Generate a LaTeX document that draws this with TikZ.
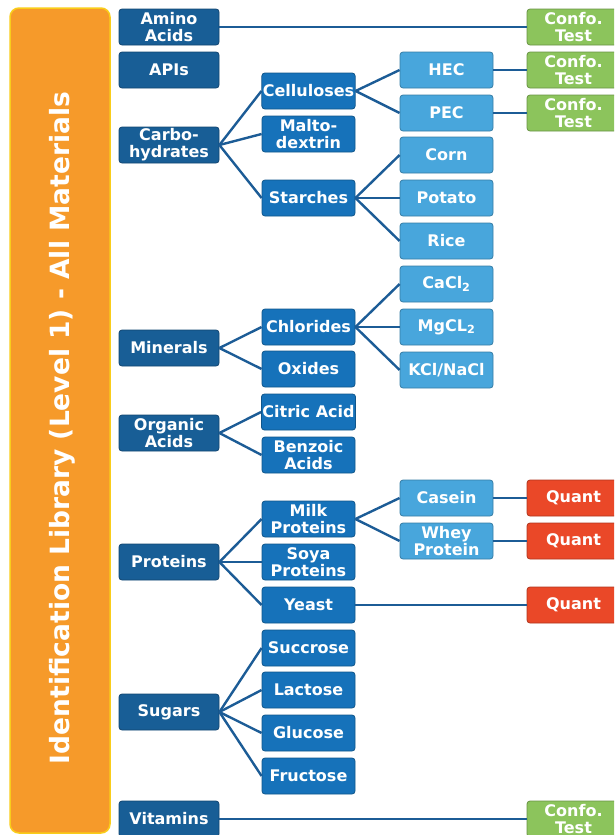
\documentclass[tikz,border=0pt]{standalone}
\usepackage{fontspec}
\setmainfont{DejaVu Sans}
\usepackage{tikz}

\definecolor{tierone}{RGB}{24,94,150}
\definecolor{tiertwo}{RGB}{22,114,186}
\definecolor{tierthree}{RGB}{72,166,220}
\definecolor{confo}{RGB}{140,196,92}
\definecolor{quant}{RGB}{234,72,40}
\definecolor{libbar}{RGB}{246,154,42}
\definecolor{linkcol}{RGB}{28,92,150}

\begin{document}
\begin{tikzpicture}[x=1pt, y=-1pt,
  box/.style={draw=#1!75!black, fill=#1, rounded corners=3pt, line width=0.8pt,
    minimum width=93pt, minimum height=36pt, inner sep=1pt, align=center,
    text=white, font=\bfseries\fontsize{16}{17}\selectfont},
  cat/.style={box=tierone, minimum width=100pt},
  sub/.style={box=tiertwo},
  leaf/.style={box=tierthree},
  conf/.style={box=confo},
  qnt/.style={box=quant},
  link/.style={draw=linkcol, line width=2.4pt}
]
\useasboundingbox (0,0) rectangle (614,835);
\clip (0,0) rectangle (614,835);

% Library bar on the left
\draw[fill=libbar, draw=yellow!55!libbar, line width=1.5pt, rounded corners=9pt]
  (10,8) rectangle (110,833);
\node[rotate=90, text=white, font=\bfseries\fontsize{26.5}{28}\selectfont] (lib) at (62,428)
  {Identification Library (Level 1) - All Materials};

% Level 1: material classes
\node[cat] (amino) at (169,27) {Amino\\Acids};
\node[cat] (apis) at (169,70) {APIs};
\node[cat] (carb) at (169,145) {Carbo-\\hydrates};
\node[cat] (mine) at (169,348) {Minerals};
\node[cat] (orga) at (169,433) {Organic\\Acids};
\node[cat] (prot) at (169,562) {Proteins};
\node[cat] (sugr) at (169,712) {Sugars};
\node[cat] (vita) at (169,819) {Vitamins};

% Level 2
\node[sub] (cell) at (308.5,91) {Celluloses};
\node[sub] (malt) at (308.5,134) {Malto-\\dextrin};
\node[sub] (star) at (308.5,198) {Starches};
\node[sub] (chlo) at (308.5,327) {Chlorides};
\node[sub] (oxid) at (308.5,369) {Oxides};
\node[sub] (citr) at (308.5,412) {Citric Acid};
\node[sub] (benz) at (308.5,455) {Benzoic\\Acids};
\node[sub] (milk) at (308.5,519) {Milk\\Proteins};
\node[sub] (soya) at (308.5,562) {Soya\\Proteins};
\node[sub] (yeas) at (308.5,605) {Yeast};
\node[sub] (succ) at (308.5,648) {Succrose};
\node[sub] (lact) at (308.5,690) {Lactose};
\node[sub] (gluc) at (308.5,733) {Glucose};
\node[sub] (fruc) at (308.5,776) {Fructose};

% Level 3
\node[leaf] (hec) at (446.5,70) {HEC};
\node[leaf] (pec) at (446.5,113) {PEC};
\node[leaf] (corn) at (446.5,155) {Corn};
\node[leaf] (pota) at (446.5,198) {Potato};
\node[leaf] (rice) at (446.5,241) {Rice};
\node[leaf] (cacl) at (446.5,284) {CaCl\textsubscript{2}};
\node[leaf] (mgcl) at (446.5,327) {MgCL\textsubscript{2}};
\node[leaf] (kcl) at (446.5,370) {KCl/NaCl};
\node[leaf] (case) at (446.5,498) {Casein};
\node[leaf] (whey) at (446.5,541) {Whey\\Protein};

% Level 4: tests
\node[conf] (cfa) at (573.5,27) {Confo.\\Test};
\node[conf] (cfh) at (573.5,70) {Confo.\\Test};
\node[conf] (cfp) at (573.5,113) {Confo.\\Test};
\node[conf] (cfv) at (573.5,819) {Confo.\\Test};
\node[qnt] (qca) at (573.5,498) {Quant};
\node[qnt] (qwh) at (573.5,541) {Quant};
\node[qnt] (qye) at (573.5,605) {Quant};

% Connectors
\draw[link] (amino.east) -- (cfa.west);
\draw[link] (carb.east) -- (cell.west);
\draw[link] (carb.east) -- (malt.west);
\draw[link] (carb.east) -- (star.west);
\draw[link] (cell.east) -- (hec.west);
\draw[link] (cell.east) -- (pec.west);
\draw[link] (hec.east) -- (cfh.west);
\draw[link] (pec.east) -- (cfp.west);
\draw[link] (star.east) -- (corn.west);
\draw[link] (star.east) -- (pota.west);
\draw[link] (star.east) -- (rice.west);
\draw[link] (mine.east) -- (chlo.west);
\draw[link] (mine.east) -- (oxid.west);
\draw[link] (chlo.east) -- (cacl.west);
\draw[link] (chlo.east) -- (mgcl.west);
\draw[link] (chlo.east) -- (kcl.west);
\draw[link] (orga.east) -- (citr.west);
\draw[link] (orga.east) -- (benz.west);
\draw[link] (prot.east) -- (milk.west);
\draw[link] (prot.east) -- (soya.west);
\draw[link] (prot.east) -- (yeas.west);
\draw[link] (milk.east) -- (case.west);
\draw[link] (milk.east) -- (whey.west);
\draw[link] (case.east) -- (qca.west);
\draw[link] (whey.east) -- (qwh.west);
\draw[link] (yeas.east) -- (qye.west);
\draw[link] (sugr.east) -- (succ.west);
\draw[link] (sugr.east) -- (lact.west);
\draw[link] (sugr.east) -- (gluc.west);
\draw[link] (sugr.east) -- (fruc.west);
\draw[link] (vita.east) -- (cfv.west);

\end{tikzpicture}
\end{document}
